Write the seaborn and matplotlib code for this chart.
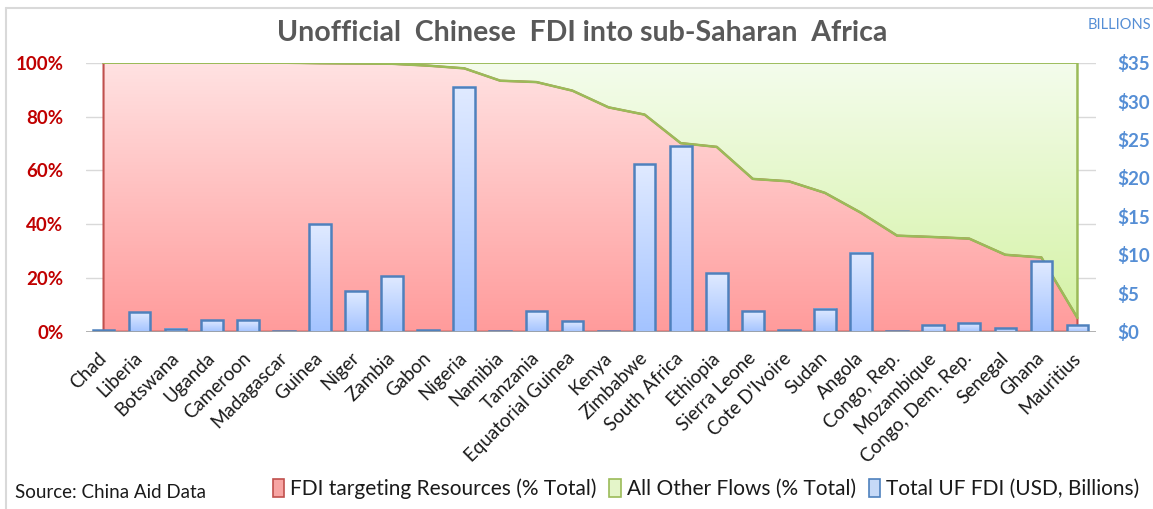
import numpy as np
import pandas as pd
import matplotlib
matplotlib.use("Agg")
import matplotlib.pyplot as plt
import seaborn as sns
from matplotlib.patches import Patch
from matplotlib.lines import Line2D
from matplotlib.colors import to_rgba
from matplotlib.ticker import FuncFormatter

# data
countries = ["Chad", "Liberia", "Botswana", "Uganda", "Cameroon", "Madagascar", "Guinea",
             "Niger", "Zambia", "Gabon", "Nigeria", "Namibia", "Tanzania", "Equatorial Guinea",
             "Kenya", "Zimbabwe", "South Africa", "Ethiopia", "Sierra Leone", "Cote D'Ivoire",
             "Sudan", "Angola", "Congo, Rep.", "Mozambique", "Congo, Dem. Rep.", "Senegal",
             "Ghana", "Mauritius"]
resource_pct = [100, 100, 100, 100, 100, 100, 99.8, 99.7, 99.6, 98.9, 97.9, 93.3, 92.8, 89.6,
                83.4, 80.7, 70.1, 68.7, 56.8, 55.9, 51.6, 44.2, 35.7, 35.2, 34.6, 28.6, 27.6, 5.1]
fdi_billions = [0.2, 2.5, 0.4, 1.5, 1.5, 0.1, 14.0, 5.3, 7.2, 0.2, 31.9, 0.1, 2.7, 1.4,
                0.1, 21.8, 24.2, 7.6, 2.7, 0.2, 3.0, 10.3, 0.1, 0.9, 1.1, 0.45, 9.2, 0.9]
pct_ticks = [0, 20, 40, 60, 80, 100]
usd_ticks = [0, 5, 10, 15, 20, 25, 30, 35]

RED_EDGE = "#C0504D"
GREEN_EDGE = "#9BBB59"
BLUE_EDGE = "#4F81BD"
LEFT_TXT = "#C00000"
RIGHT_TXT = "#558ED5"


def gradient(c_top, c_bot, n=256):
    """Vertical gradient array, row 0 = bottom."""
    top = np.array(to_rgba(c_top))
    bot = np.array(to_rgba(c_bot))
    t = np.linspace(0, 1, n)[:, None]
    return (bot + (top - bot) * t)[:, None, :]


sns.set_theme(style="white")
plt.rcParams["font.family"] = ["Lato", "DejaVu Sans"]

df = pd.DataFrame({"pos": np.arange(len(countries)), "country": countries,
                   "resources": resource_pct, "fdi": fdi_billions})
n = len(df)

W, H = 1153, 509
fig = plt.figure(figsize=(W / 100, H / 100), dpi=100)
ax = fig.add_axes([85.5 / W, 1 - 331.7 / H, 1010 / W, 269 / H])

# areas: resources share (red) and everything else (green)
red_poly = ax.fill_between(df["pos"], 0, df["resources"], facecolor="none",
                           edgecolor=RED_EDGE, lw=1.5, zorder=2)
green_poly = ax.fill_between(df["pos"], df["resources"], 100, facecolor="none",
                             edgecolor=GREEN_EDGE, lw=1.8, zorder=3)
ext = [-0.5, n - 0.5, 0, 100]
im_r = ax.imshow(gradient("#FFE2E2", "#FF9B9B"), extent=ext, aspect="auto",
                 origin="lower", interpolation="bilinear", zorder=1)
im_r.set_clip_path(red_poly.get_paths()[0], ax.transData)
im_g = ax.imshow(gradient("#F4FCEC", "#D3F2A2"), extent=ext, aspect="auto",
                 origin="lower", interpolation="bilinear", zorder=1)
im_g.set_clip_path(green_poly.get_paths()[0], ax.transData)

ax.set_xlim(-0.5, n - 0.5)
ax.set_ylim(0, 100)
ax.set_yticks(pct_ticks)
ax.yaxis.set_major_formatter(FuncFormatter(lambda v, p: f"{v:.0f}%"))
ax.grid(axis="y", color="#D9D9D9", lw=1, zorder=0)
ax.grid(axis="x", visible=False)
ax.set_axisbelow(True)
for s in ax.spines.values():
    s.set_visible(False)
ax.tick_params(axis="y", length=0, pad=16, labelsize=13.5, labelcolor=LEFT_TXT)
for lbl in ax.get_yticklabels():
    lbl.set_fontweight("bold")

# bars on the secondary axis
ax2 = ax.twinx()
sns.barplot(data=df, x="pos", y="fdi", native_scale=True, orient="x", width=0.6,
            errorbar=None, ax=ax2)
for bar in ax2.patches:
    x0, y0 = bar.get_x(), bar.get_y()
    bw, bh = bar.get_width(), bar.get_height()
    bar.set_facecolor("none")
    bar.set_edgecolor(BLUE_EDGE)
    bar.set_linewidth(1.8)
    bar.set_zorder(3)
    ax2.imshow(gradient("#E0EAFF", "#A3C3FF"), extent=[x0, x0 + bw, y0, y0 + bh],
               aspect="auto", origin="lower", interpolation="bilinear", zorder=2)
ax2.axhline(0, color="#A6A6A6", lw=1.2, zorder=4)
ax2.set_xlim(-0.5, n - 0.5)
ax2.set_ylim(0, 35)
ax2.set_yticks(usd_ticks)
ax2.yaxis.set_major_formatter(FuncFormatter(lambda v, p: f"${v:.0f}"))
ax2.set_ylabel("")
ax2.set_xlabel("")
for s in ax2.spines.values():
    s.set_visible(False)
ax2.tick_params(axis="y", length=0, pad=16, labelsize=13.5, labelcolor=RIGHT_TXT)
for lbl in ax2.get_yticklabels():
    lbl.set_fontweight("bold")

ax.set_xticks(df["pos"])
ax.set_xticklabels(df["country"], rotation=45, ha="right", va="center",
                   rotation_mode="anchor", fontsize=13.5, color="#1A1A1A")
ax.tick_params(axis="x", length=0, pad=17)
ax.set_xlabel("")
ax.set_ylabel("")

# titles and notes
fig.text(582 / W, 1 - 33 / H, "Unofficial  Chinese  FDI into sub-Saharan  Africa",
         ha="center", va="center", fontsize=20.5, fontweight="bold", color="#595959")
fig.text(1119 / W, 1 - 25 / H, "BILLIONS", ha="center", va="center", fontsize=10.5,
         color=RIGHT_TXT)
fig.text(15 / W, 1 - 492 / H, "Source: China Aid Data", ha="left", va="center",
         fontsize=13.5, color="#1A1A1A")

handles = [Patch(facecolor="#F7A5A3", edgecolor=RED_EDGE, lw=1.2),
           Patch(facecolor="#E4F5C9", edgecolor=GREEN_EDGE, lw=1.2),
           Patch(facecolor="#C6D9F7", edgecolor=BLUE_EDGE, lw=1.2)]
labels = ["FDI targeting Resources (% Total)", "All Other Flows (% Total)",
          "Total UF FDI (USD, Billions)"]
fig.legend(handles, labels, loc="center right", bbox_to_anchor=(1150 / W, 1 - 489 / H),
           ncol=3, frameon=False, fontsize=15, handlelength=0.55, handleheight=1.0,
           handletextpad=0.3, columnspacing=0.6, labelcolor="#1A1A1A", borderpad=0)

# chart border (top and left visible in the reference)
fig.add_artist(Line2D([6 / W, 6 / W], [0, 1 - 8 / H], color="#D9D9D9", lw=1.5,
                      transform=fig.transFigure))
fig.add_artist(Line2D([6 / W, 1], [1 - 8 / H, 1 - 8 / H], color="#D9D9D9", lw=1.5,
                      transform=fig.transFigure))

fig.savefig("out.png", dpi=100)
